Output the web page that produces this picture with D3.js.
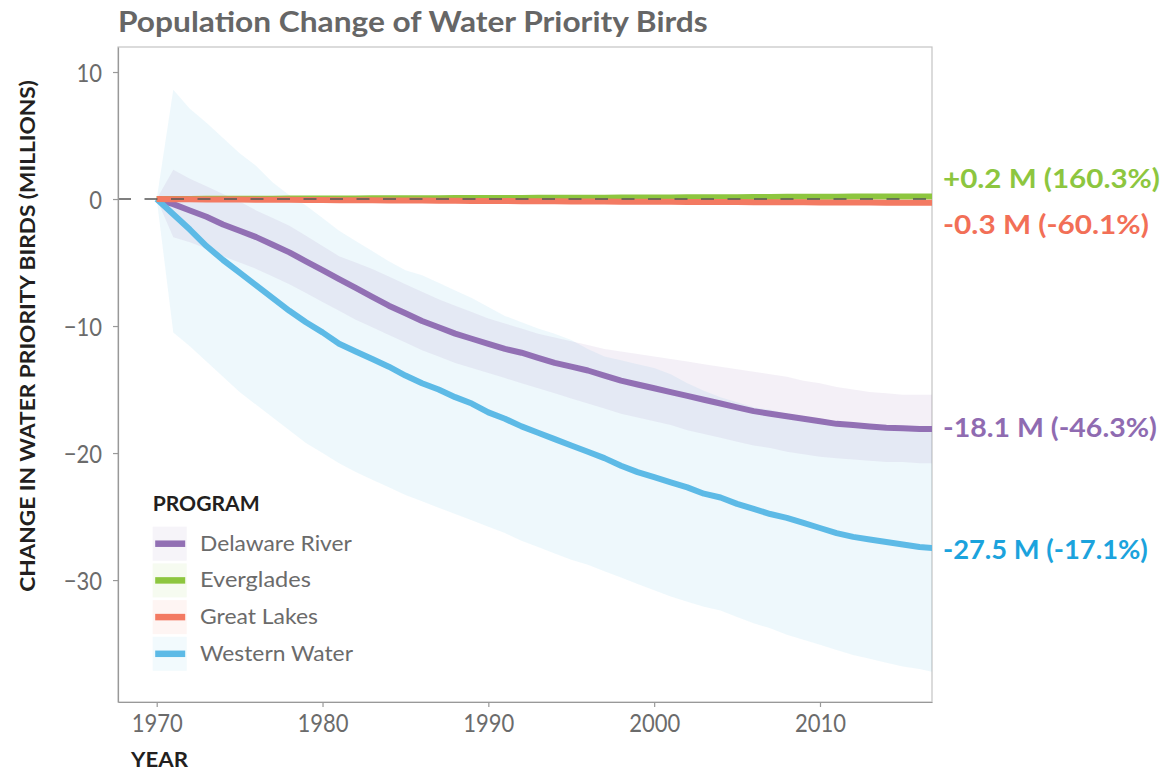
<!DOCTYPE html>
<html>
<head>
<meta charset="utf-8">
<script src="https://cdn.jsdelivr.net/npm/d3@7"></script>
<style>
  body { margin: 0; background: #fff; }
  svg text { font-family: Lato, "Open Sans", sans-serif; }
</style>
</head>
<body>
<svg id="chart" width="1167" height="772"></svg>
<script>
// ---- data (change in millions of birds since 1970) ----
const years = d3.range(1970, 2018);

const programs = ["Delaware River", "Everglades", "Great Lakes", "Western Water"];

const delawareValues = [
  0, -0.4, -0.9, -1.4, -2.0, -2.5, -3.0, -3.6, -4.2, -4.9,
  -5.6, -6.3, -7.0, -7.7, -8.4, -9.0, -9.6, -10.1, -10.6, -11.0,
  -11.4, -11.8, -12.1, -12.5, -12.9, -13.2, -13.5, -13.9, -14.3, -14.6,
  -14.9, -15.2, -15.5, -15.8, -16.1, -16.4, -16.7, -16.9, -17.1, -17.3,
  -17.5, -17.7, -17.8, -17.9, -18.0, -18.05, -18.1, -18.1
];
const delawareUpper = [
  0, 2.3, 1.6, 1.0, 0.4, -0.2, -0.9, -1.5, -2.1, -2.9,
  -3.7, -4.5, -5.0, -5.5, -6.1, -6.7, -7.3, -7.9, -8.4, -8.9,
  -9.4, -9.8, -10.2, -10.6, -10.9, -11.2, -11.5, -11.8, -12.0, -12.2,
  -12.4, -12.6, -12.8, -13.0, -13.2, -13.4, -13.6, -13.8, -14.0, -14.3,
  -14.5, -14.8, -15.0, -15.2, -15.3, -15.4, -15.4, -15.4
];
const delawareLower = [
  0, -3.0, -3.4, -3.9, -4.5, -5.0, -5.5, -6.1, -6.7, -7.4,
  -8.1, -8.8, -9.5, -10.1, -10.7, -11.3, -11.9, -12.4, -12.9, -13.3,
  -13.7, -14.1, -14.5, -14.9, -15.3, -15.7, -16.1, -16.5, -16.9, -17.2,
  -17.5, -17.8, -18.2, -18.5, -18.8, -19.1, -19.4, -19.6, -19.9, -20.1,
  -20.3, -20.4, -20.5, -20.6, -20.7, -20.7, -20.8, -20.8
];

const evergladesValues = [
  0, 0.01, 0.01, 0.02, 0.02, 0.03, 0.03, 0.03, 0.04, 0.04,
  0.05, 0.05, 0.05, 0.06, 0.06, 0.07, 0.07, 0.07, 0.08, 0.08,
  0.09, 0.09, 0.09, 0.10, 0.10, 0.11, 0.11, 0.11, 0.12, 0.12,
  0.13, 0.13, 0.14, 0.14, 0.15, 0.15, 0.16, 0.16, 0.17, 0.17,
  0.18, 0.18, 0.19, 0.19, 0.19, 0.20, 0.20, 0.20
];

const greatLakesValues = [
  0, -0.01, -0.02, -0.03, -0.03, -0.04, -0.05, -0.06, -0.06, -0.07,
  -0.08, -0.09, -0.09, -0.10, -0.11, -0.12, -0.12, -0.13, -0.14, -0.15,
  -0.15, -0.16, -0.17, -0.18, -0.18, -0.19, -0.20, -0.20, -0.21, -0.21,
  -0.22, -0.22, -0.23, -0.23, -0.24, -0.24, -0.25, -0.25, -0.26, -0.26,
  -0.27, -0.27, -0.28, -0.28, -0.29, -0.29, -0.30, -0.30
];

const westernValues = [
  0, -1.2, -2.4, -3.7, -4.8, -5.8, -6.8, -7.8, -8.8, -9.7,
  -10.5, -11.4, -12.0, -12.6, -13.2, -13.9, -14.5, -15.0, -15.6, -16.1,
  -16.8, -17.3, -17.9, -18.4, -18.9, -19.4, -19.9, -20.4, -21.0, -21.5,
  -21.9, -22.3, -22.7, -23.2, -23.5, -24.0, -24.4, -24.8, -25.1, -25.5,
  -25.9, -26.3, -26.6, -26.8, -27.0, -27.2, -27.4, -27.5
];
const westernUpper = [
  0, 8.6, 7.1, 6.0, 4.8, 3.6, 2.6, 1.3, 0.3, -0.5,
  -1.5, -2.5, -3.3, -4.1, -4.9, -5.6, -6.0, -6.6, -7.2, -7.8,
  -8.5, -9.2, -9.7, -10.2, -10.6, -11.1, -11.8, -12.4, -12.7, -13.0,
  -13.3, -13.8, -14.5, -15.1, -15.6, -16.0, -16.4, -16.6, -16.9, -17.2,
  -17.4, -17.6, -17.8, -17.9, -18.0, -18.0, -18.0, -18.0
];
const westernLower = [
  0, -10.5, -11.6, -12.8, -14.0, -15.2, -16.2, -17.2, -18.2, -19.2,
  -20.0, -20.8, -21.5, -22.1, -22.7, -23.3, -23.8, -24.3, -24.8, -25.3,
  -25.8, -26.3, -26.9, -27.4, -27.9, -28.4, -28.8, -29.3, -29.8, -30.3,
  -30.8, -31.3, -31.7, -32.1, -32.4, -32.9, -33.4, -33.8, -34.3, -34.7,
  -35.1, -35.5, -35.9, -36.2, -36.5, -36.8, -37.0, -37.3
];

const endLabels = ["-18.1 M (-46.3%)", "+0.2 M (160.3%)", "-0.3 M (-60.1%)", "-27.5 M (-17.1%)"];
const yTicks = [10, 0, -10, -20, -30];
const xTicks = [1970, 1980, 1990, 2000, 2010];

// ---- styling ----
const lineColors  = ["#9270b4", "#8dc63f", "#f37a62", "#5dbae6"];
const labelColors = ["#8f6bb1", "#8dc63f", "#f26f57", "#1ba3dd"];
const labelNudge  = [8, -8, 31, 11];
const labelWidths = [214, 217, 206, 205];

const series = [
  { name: programs[0], values: delawareValues, lower: delawareLower, upper: delawareUpper },
  { name: programs[1], values: evergladesValues },
  { name: programs[2], values: greatLakesValues },
  { name: programs[3], values: westernValues, lower: westernLower, upper: westernUpper }
];

const svg = d3.select("#chart");
const plotLeft = 118, plotRight = 932, plotTop = 47, plotBottom = 702;

const x = d3.scaleLinear().domain([1967.666, 2016.755]).range([plotLeft, plotRight]);
const y = d3.scaleLinear().domain([11.97, -39.6]).range([plotTop, plotBottom]);

// squeeze a text node horizontally so it spans the given width
function fitWidth(sel, width) {
  const len = sel.node().getComputedTextLength();
  sel.attr("transform", `scale(${width / len},1)`);
}

svg.append("defs").append("clipPath").attr("id", "plot-clip")
  .append("rect").attr("x", plotLeft).attr("y", plotTop)
  .attr("width", plotRight - plotLeft).attr("height", plotBottom - plotTop);

// frame
svg.append("rect")
  .attr("x", plotLeft).attr("y", plotTop)
  .attr("width", plotRight - plotLeft).attr("height", plotBottom - plotTop)
  .attr("fill", "none").attr("stroke", "#c4c4c4").attr("stroke-width", 1.2);

const plot = svg.append("g").attr("clip-path", "url(#plot-clip)");

// uncertainty ribbons
const area = d3.area()
  .x((d, i) => x(years[i]))
  .y0(d => y(d[0]))
  .y1(d => y(d[1]));

[3, 0].forEach(k => {
  const s = series[k];
  plot.append("path")
    .datum(s.lower.map((v, i) => [v, s.upper[i]]))
    .attr("d", area)
    .attr("fill", lineColors[k])
    .attr("fill-opacity", 0.1);
});

// trend lines
const line = d3.line().x((d, i) => x(years[i])).y(d => y(d));
[0, 3, 1, 2].forEach(k => {
  plot.append("path")
    .datum(series[k].values)
    .attr("d", line)
    .attr("fill", "none")
    .attr("stroke", lineColors[k])
    .attr("stroke-width", 6)
    .attr("stroke-linejoin", "round");
});

// zero reference
svg.append("line")
  .attr("x1", plotLeft).attr("x2", plotRight)
  .attr("y1", y(0)).attr("y2", y(0))
  .attr("stroke", "#555").attr("stroke-width", 1.6)
  .attr("stroke-dasharray", "13,13.5");

// axes
const tickScale = 0.88;
const yAxis = svg.append("g").attr("transform", `translate(${plotLeft},0)`)
  .call(d3.axisLeft(y).tickValues(yTicks).tickSize(5).tickSizeOuter(0).tickFormat(d3.format("d")));
const xAxis = svg.append("g").attr("transform", `translate(0,${plotBottom})`)
  .call(d3.axisBottom(x).tickValues(xTicks).tickSize(5).tickSizeOuter(0).tickFormat(d3.format("d")));

[yAxis, xAxis].forEach(g => {
  g.select(".domain").attr("stroke", "#999").attr("stroke-width", 1.2);
  g.selectAll(".tick line").attr("stroke", "#999").attr("stroke-width", 1.2);
  g.selectAll(".tick text")
    .attr("fill", "#6b6b6b")
    .style("font-size", "25px")
    .style("font-weight", 400)
    .attr("transform", `scale(${tickScale},1)`);
});
yAxis.selectAll(".tick text").attr("x", -16 / tickScale).attr("dy", "0.36em");
xAxis.selectAll(".tick text").attr("y", 30).attr("dy", null);

// title
svg.append("g").attr("transform", "translate(118,32)")
  .append("text")
  .text("Population Change of Water Priority Birds")
  .attr("fill", "#666")
  .style("font-size", "29px").style("font-weight", 700)
  .call(fitWidth, 590);

// axis titles
svg.append("g").attr("transform", "translate(35,336) rotate(-90)")
  .append("text")
  .text("CHANGE IN WATER PRIORITY BIRDS (MILLIONS)")
  .attr("text-anchor", "middle")
  .attr("fill", "#231f20")
  .style("font-size", "20px").style("font-weight", 700)
  .call(fitWidth, 512);

svg.append("g").attr("transform", "translate(131,767)")
  .append("text")
  .text("YEAR")
  .attr("fill", "#231f20")
  .style("font-size", "21px").style("font-weight", 700)
  .call(fitWidth, 57);

// legend
const legend = svg.append("g").attr("transform", "translate(152.7,511)");
legend.append("text")
  .text("PROGRAM")
  .attr("fill", "#231f20")
  .style("font-size", "21px").style("font-weight", 700)
  .call(fitWidth, 107);

const legendWidths = [152, 111, 118, 153];
programs.forEach((name, i) => {
  const row = legend.append("g").attr("transform", `translate(0,${15.7 + i * 36.7})`);
  row.append("rect")
    .attr("width", 34).attr("height", 34)
    .attr("fill", lineColors[i]).attr("fill-opacity", 0.08);
  row.append("line")
    .attr("x1", 2.5).attr("x2", 32.5).attr("y1", 17).attr("y2", 17)
    .attr("stroke", lineColors[i]).attr("stroke-width", 6.5);
  row.append("g").attr("transform", "translate(47.3,24)")
    .append("text")
    .text(name)
    .attr("fill", "#6b6b6b")
    .style("font-size", "22px").style("font-weight", 400)
    .call(fitWidth, legendWidths[i]);
});

// end-of-line value labels
series.forEach((s, i) => {
  const last = s.values[s.values.length - 1];
  svg.append("g")
    .attr("transform", `translate(943,${y(last) + labelNudge[i]})`)
    .append("text")
    .text(endLabels[i])
    .attr("fill", labelColors[i])
    .style("font-size", "26px").style("font-weight", 700)
    .call(fitWidth, labelWidths[i]);
});
</script>
</body>
</html>
